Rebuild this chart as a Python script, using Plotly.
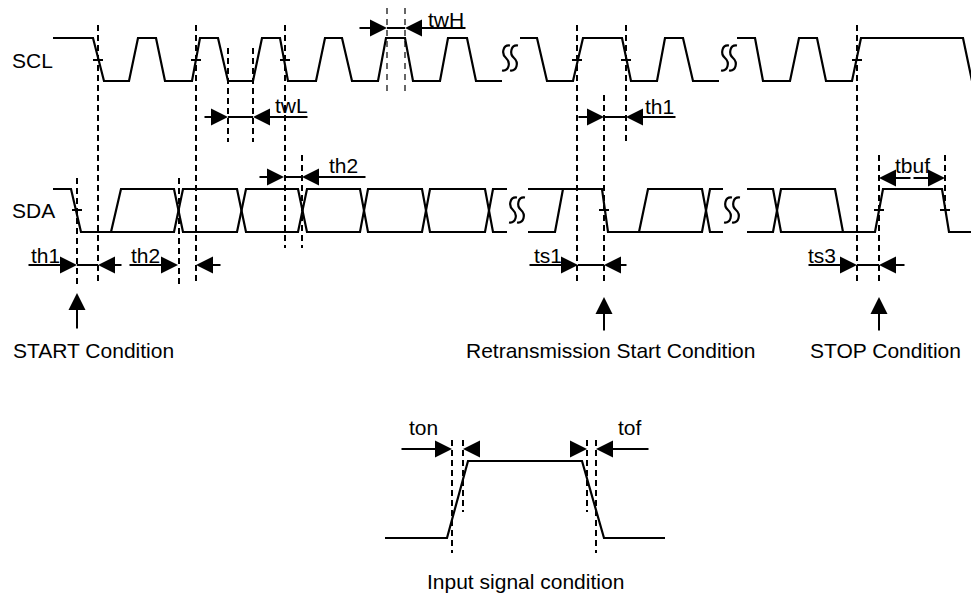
import plotly.graph_objects as go

# ---- signal levels (pixel-like diagram units, y grows downward) ----
SCL_HI, SCL_LO = 38, 81
SDA_HI, SDA_LO = 189, 232
IN_HI, IN_LO = 461, 538
SCL_MID, SDA_MID = 60, 210

# ---- SCL waveform segments: x breakpoints and logic levels ----
SCL_X = [
    [53, 93, 104, 129, 138, 156, 165, 192, 200, 218, 228, 253, 262, 280, 288, 316, 325,
     342, 352, 378, 386, 405, 413, 440, 448, 467, 476, 502],
    [520, 537, 547, 573, 583, 622, 631, 657, 665, 683, 693, 719],
    [737, 755, 763, 790, 799, 817, 826, 852, 861, 963, 972, 979],
]
SCL_LV = [
    [1, 1, 0, 0, 1, 1, 0, 0, 1, 1, 0, 0, 1, 1, 0, 0, 1, 1, 0, 0, 1, 1, 0, 0, 1, 1, 0, 0],
    [1, 1, 0, 0, 1, 1, 0, 0, 1, 1, 0, 0],
    [1, 1, 0, 0, 1, 1, 0, 0, 1, 1, 0, 0],
]

# ---- SDA waveform paths ----
SDA_X = [
    [53, 71, 81, 174, 183, 237, 246, 298, 307, 360, 368, 422, 430, 485, 493, 507],
    [111, 121, 174, 183, 237, 246, 298, 307, 360, 368, 422, 430, 485, 493, 507],
    [528, 602, 608, 702, 710, 723],
    [528, 555, 563],
    [639, 648, 702, 710, 723],
    [747, 773, 781, 875, 883, 942, 949, 979],
    [747, 773, 781, 835, 843],
]
SDA_LV = [
    [1, 1, 0, 0, 1, 1, 0, 0, 1, 1, 0, 0, 1, 1, 0, 0],
    [0, 1, 1, 0, 0, 1, 1, 0, 0, 1, 1, 0, 0, 1, 1],
    [1, 1, 0, 0, 1, 1],
    [0, 0, 1],
    [0, 1, 1, 0, 0],
    [1, 1, 0, 0, 1, 1, 0, 0],
    [0, 0, 1, 1, 0],
]

# ---- input signal waveform ----
IN_X = [385, 447, 468, 582, 604, 665]
IN_LV = [0, 0, 1, 1, 0, 0]

# ---- dashed reference lines: x, top, bottom ----
DASH_X = [77, 98, 179, 196, 228, 253, 285, 302, 577, 604, 626, 857, 879, 945, 452, 463, 587, 596]
DASH_TOP = [178, 25, 178, 25, 48, 48, 25, 155, 25, 95, 25, 25, 155, 155, 440, 440, 440, 440]
DASH_BOT = [285, 285, 285, 285, 142, 142, 248, 248, 285, 285, 145, 285, 285, 215, 553, 512, 512, 553]
THIN_DASH_X = [387, 405]
THIN_DASH_TOP = [8, 8]
THIN_DASH_BOT = [91, 91]

# ---- mid-level tick marks ----
SCL_TICK_X = [98, 196, 285, 577, 626, 857]
SDA_TICK_X = [77, 604, 879, 945]

# ---- timing measurements: left tail, left head, right head, right tail, y, middle line ----
MEAS = [
    ("th1b", 27, 77, 98, 123, 265, True),
    ("th2b", 128, 178, 196, 222, 265, False),
    ("twL", 203, 228, 253, 309, 117, True),
    ("twH", 358, 387, 405, 467, 28, True),
    ("th2t", 258, 284, 302, 367, 177, True),
    ("th1t", 577, 604, 626, 677, 117, True),
    ("ts1", 528, 578, 604, 628, 265, True),
    ("ts3", 807, 857, 879, 906, 265, True),
    ("ton", 400, 452, 463, 477, 449, False),
    ("tof", 573, 587, 596, 650, 449, False),
]
TBUF = (879, 945, 178)

# ---- condition arrows: x, tip y, tail y ----
UP_ARROWS = [(77, 293, 330), (604, 297, 332), (879, 297, 332)]

# ---- break markers: centre x, centre y ----
BREAKS = [(510, 58), (729, 58), (517, 210), (732, 210)]

# ---- labels: text, x, y, anchor ----
LABELS = [
    ("SCL", 10, 60, "left"),
    ("SDA", 10, 210, "left"),
    ("twH", 446, 19, "center"),
    ("twL", 291, 105, "center"),
    ("th1", 659, 106, "center"),
    ("th2", 343, 165, "center"),
    ("tbuf", 912, 165, "center"),
    ("th1", 45, 255, "center"),
    ("th2", 145, 255, "center"),
    ("ts1", 548, 255, "center"),
    ("ts3", 822, 255, "center"),
    ("START Condition", 11, 350, "left"),
    ("Retransmission Start Condition", 610, 350, "center"),
    ("STOP Condition", 885, 350, "center"),
    ("ton", 423, 427, "center"),
    ("tof", 630, 427, "center"),
    ("Input signal condition", 525, 581, "center"),
]

FONT = "Liberation Sans, Arial, Helvetica, sans-serif"
PAGE_OFFSET = 8  # default body margin of the page
W, H = 979, 594

fig = go.Figure()


def level_y(lv, hi, lo):
    return [hi if v else lo for v in lv]


wx, wy = [], []
for xs, lv in zip(SCL_X, SCL_LV):
    wx += xs + [None]
    wy += level_y(lv, SCL_HI, SCL_LO) + [None]
for xs, lv in zip(SDA_X, SDA_LV):
    wx += xs + [None]
    wy += level_y(lv, SDA_HI, SDA_LO) + [None]
wx += IN_X
wy += level_y(IN_LV, IN_HI, IN_LO)
fig.add_trace(go.Scatter(x=wx, y=wy, mode="lines",
                         line=dict(color="black", width=2.2), hoverinfo="skip"))

dx, dy = [], []
for x, t, b in zip(DASH_X, DASH_TOP, DASH_BOT):
    dx += [x, x, None]
    dy += [t, b, None]
fig.add_trace(go.Scatter(x=dx, y=dy, mode="lines",
                         line=dict(color="black", width=2, dash="6px,4px"), hoverinfo="skip"))
tx, ty = [], []
for x, t, b in zip(THIN_DASH_X, THIN_DASH_TOP, THIN_DASH_BOT):
    tx += [x, x, None]
    ty += [t, b, None]
fig.add_trace(go.Scatter(x=tx, y=ty, mode="lines",
                         line=dict(color="black", width=1.2, dash="6px,5px"), hoverinfo="skip"))

kx, ky = [], []
for x in SCL_TICK_X:
    kx += [x - 5, x + 5, None]
    ky += [SCL_MID, SCL_MID, None]
for x in SDA_TICK_X:
    kx += [x - 5, x + 5, None]
    ky += [SDA_MID, SDA_MID, None]
for name, lt, lh, rh, rt, y, mid in MEAS:
    if mid:
        kx += [lh, rh, None]
        ky += [y, y, None]
fig.add_trace(go.Scatter(x=kx, y=ky, mode="lines",
                         line=dict(color="black", width=2), hoverinfo="skip"))

annotations = []


def arrow(x0, y0, x1, y1):
    annotations.append(dict(x=x1, y=y1, ax=x0, ay=y0, xref="x", yref="y",
                            axref="x", ayref="y", text="", showarrow=True,
                            arrowhead=2, arrowsize=1.7, arrowwidth=2,
                            arrowcolor="black", standoff=0, startstandoff=0))


for name, lt, lh, rh, rt, y, mid in MEAS:
    arrow(lt, y, lh, y)
    arrow(rt, y, rh, y)
cx = (TBUF[0] + TBUF[1]) / 2
arrow(cx, TBUF[2], TBUF[0], TBUF[2])
arrow(cx, TBUF[2], TBUF[1], TBUF[2])
for x, tip, tail in UP_ARROWS:
    arrow(x, tail, x, tip)

for text, x, y, anc in LABELS:
    annotations.append(dict(x=x, y=y, xref="x", yref="y", text=text, showarrow=False,
                            xanchor=anc, yanchor="middle",
                            font=dict(family=FONT, size=21, color="black")))

shapes = []
for bx, by in BREAKS:
    h = 25
    top, bot = by - h / 2, by + h / 2
    for off in (-4, 4):
        x = bx + off
        path = (f"M {x+4},{top} C {x-3},{top-1} {x-5},{top+8} {x},{by} "
                f"C {x+5},{bot-8} {x+3},{bot+1} {x-4},{bot}")
        shapes.append(dict(type="path", path=path, xref="x", yref="y",
                           line=dict(color="black", width=2.2)))

fig.update_layout(
    width=W - PAGE_OFFSET, height=H - PAGE_OFFSET,
    margin=dict(l=0, r=0, t=0, b=0, pad=0),
    paper_bgcolor="white", plot_bgcolor="white",
    showlegend=False,
    xaxis=dict(range=[PAGE_OFFSET, W], visible=False, fixedrange=True),
    yaxis=dict(range=[H, PAGE_OFFSET], visible=False, fixedrange=True),
    annotations=annotations,
    shapes=shapes,
)

fig.write_html("out.html")
